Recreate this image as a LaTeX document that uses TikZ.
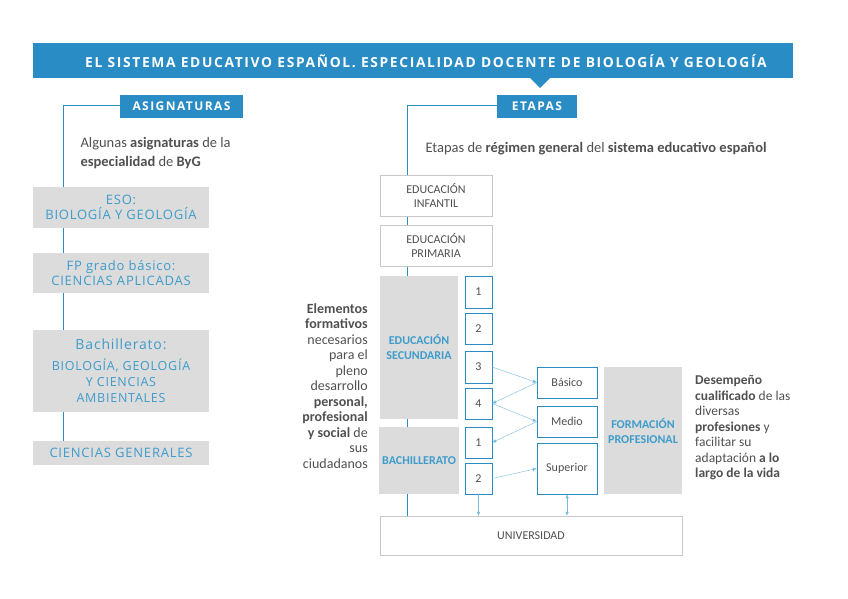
\documentclass[tikz,border=0pt]{standalone}
\usepackage{fontspec}
\setmainfont{Carlito}
\newfontfamily\osans{Open Sans}[LetterSpace=6]
\newfontfamily\osanst{Open Sans}[LetterSpace=12]
\usetikzlibrary{arrows.meta}
\definecolor{bl}{HTML}{2A8CC4}
\definecolor{tb}{HTML}{3E9CCB}
\definecolor{gb}{HTML}{DCDCDC}
\definecolor{tx}{HTML}{505050}
\definecolor{bd}{HTML}{C8C8C8}
\begin{document}
\begin{tikzpicture}[x=1pt,y=-1pt,
 gbox/.style={fill=gb,text=tb,align=center,font=\osans\fontsize{13}{15}\selectfont},
 lbox/.style={fill=gb,text=tb,align=center,font=\bfseries\fontsize{12}{15}\selectfont},
 wbox/.style={draw=bd,fill=white,text=tx,align=center,font=\fontsize{12}{14}\selectfont},
 nbox/.style={draw=bl,fill=white,text=tx,font=\fontsize{12}{13}\selectfont},
 hdr/.style={fill=bl,text=white,font=\osanst\bfseries\fontsize{12}{13}\selectfont},
 cn/.style={draw=tb!70,thin,-{Latex[length=4pt,width=3.5pt]}},
 vl/.style={draw=bl,line width=0.8pt}]
\useasboundingbox (0,0) rectangle (848,599);
\draw[vl] (63,105) -- (63,455);
\draw[vl] (407,105) -- (407,516);
\draw[vl] (63,105) -- (120,105);
\draw[vl] (407,105) -- (497,105);
\fill[bl] (33,43) rectangle (793,78);
\fill[bl] (530,78) -- (550,78) -- (540,88) -- cycle;
\node[font=\osanst\bfseries\fontsize{13.8}{15}\selectfont,text=white] (title) at (426,61) {EL SISTEMA EDUCATIVO ESPAÑOL. ESPECIALIDAD DOCENTE DE BIOLOGÍA Y GEOLOGÍA};
\node[hdr,minimum width=123,minimum height=23] (asig) at (181.5,106.5) {ASIGNATURAS};
\node[hdr,minimum width=80,minimum height=23] (etap) at (537,106.5) {ETAPAS};
\node[text=tx,align=left,font=\fontsize{14.5}{19}\selectfont,anchor=north west] (algunas) at (77,134) {Algunas \textbf{asignaturas} de la\\\textbf{especialidad} de \textbf{ByG}};
\node[gbox,minimum width=176,minimum height=41] (eso) at (121,207.5) {ESO:\\BIOLOGÍA Y GEOLOGÍA};
\node[gbox,minimum width=176,minimum height=40] (fp) at (121,273) {FP grado básico:\\CIENCIAS APLICADAS};
\node[gbox,minimum width=176,minimum height=82,font=\osans\fontsize{12.5}{16}\selectfont] (bach) at (121,371) {\fontsize{14}{16}\selectfont Bachillerato:\\[5pt]BIOLOGÍA, GEOLOGÍA\\Y CIENCIAS\\AMBIENTALES};
\node[gbox,minimum width=176,minimum height=24] (cg) at (121,453) {CIENCIAS GENERALES};
\node[text=tx,font=\fontsize{14.5}{16}\selectfont,anchor=west] (etext) at (422,149) {Etapas de \textbf{régimen general} del \textbf{sistema educativo español}};
\node[wbox,minimum width=112,minimum height=41] (inf) at (436,195.5) {EDUCACIÓN\\INFANTIL};
\node[wbox,minimum width=112,minimum height=41] (pri) at (436,245.5) {EDUCACIÓN\\PRIMARIA};
\node[lbox,minimum width=78,minimum height=143] (sec) at (419,347.5) {EDUCACIÓN\\SECUNDARIA};
\node[lbox,minimum width=78,minimum height=67] (bac) at (419,460.5) {BACHILLERATO};
\node[nbox,minimum width=27,minimum height=32] (s1) at (478.5,292) {1};
\node[nbox,minimum width=27,minimum height=31] (s2) at (478.5,328.5) {2};
\node[nbox,minimum width=27,minimum height=32] (s3) at (478.5,367) {3};
\node[nbox,minimum width=27,minimum height=31] (s4) at (478.5,403.5) {4};
\node[nbox,minimum width=27,minimum height=31] (b1) at (478.5,442.5) {1};
\node[nbox,minimum width=27,minimum height=31] (b2) at (478.5,478.5) {2};
\node[nbox,minimum width=60,minimum height=31] (bas) at (567,382.5) {Básico};
\node[nbox,minimum width=60,minimum height=31] (med) at (567,421.5) {Medio};
\node[nbox,minimum width=60,minimum height=51] (sup) at (567,468.5) {Superior};
\node[lbox,minimum width=78,minimum height=127] (fpro) at (643,430.5) {FORMACIÓN\\PROFESIONAL};
\node[wbox,minimum width=302,minimum height=39] (uni) at (531,535.5) {UNIVERSIDAD};
\node[text=tx,align=right,font=\fontsize{14}{15.5}\selectfont,anchor=east,inner sep=1pt] (elem) at (369,386) {\textbf{Elementos}\\\textbf{formativos}\\necesarios\\para el\\pleno\\desarrollo\\\textbf{personal,}\\\textbf{profesional}\\\textbf{y social} de\\sus\\ciudadanos};
\node[text=tx,align=left,font=\fontsize{13.5}{15.5}\selectfont,anchor=west,inner sep=1pt] (desem) at (694,428) {\textbf{Desempeño}\\\textbf{cualificado} de las\\diversas\\\textbf{profesiones} y\\facilitar su\\adaptación \textbf{a lo}\\\textbf{largo de la vida}};
\draw[cn] (s3.east) -- (bas.west);
\draw[cn] (bas.west) -- (s4.east);
\draw[cn] (s4.east) -- (med.west);
\draw[cn] (med.west) -- (b1.east);
\draw[cn] (b2.east) -- (sup.west);
\draw[cn] (b2.south) -- (b2.south |- uni.north);
\draw[cn,{Latex[length=4pt,width=3.5pt]}-{Latex[length=4pt,width=3.5pt]}] (sup.south) -- (sup.south |- uni.north);
\end{tikzpicture}
\end{document}
